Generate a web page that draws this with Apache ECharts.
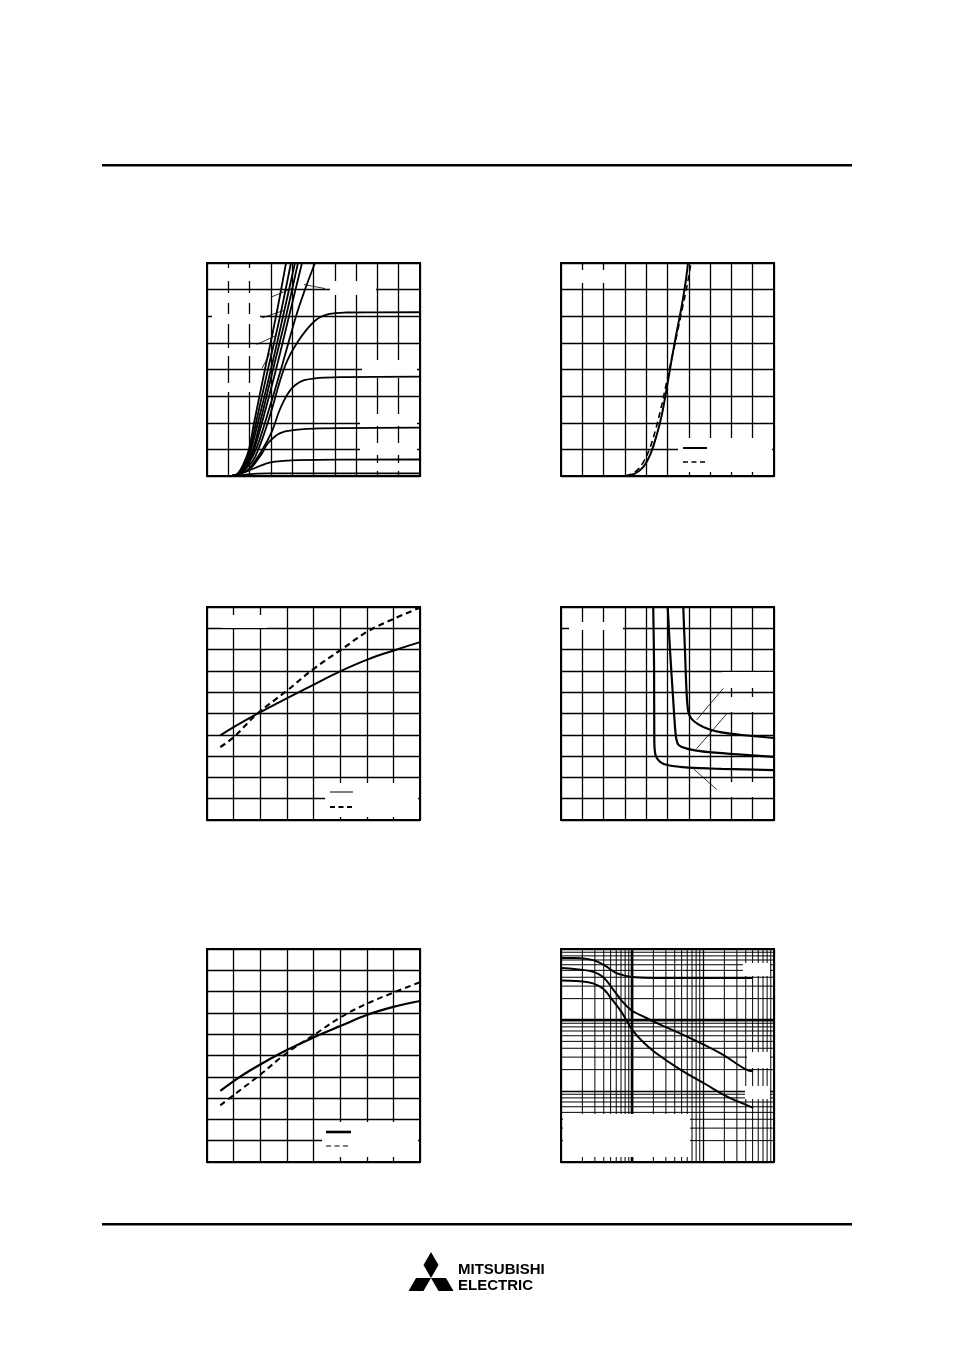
<!DOCTYPE html>
<html><head><meta charset="utf-8">
<script src="https://cdn.jsdelivr.net/npm/echarts@6/dist/echarts.min.js"></script>
<style>html,body{margin:0;padding:0;background:#fff}#c{width:954px;height:1351px}</style>
</head><body><div id="c"></div>
<script>
// ---------- Chart 1: output characteristics (x 0-10, y 0-80) ----------
const c1Steep1 = [[1.17,0],[1.45,1],[1.74,5],[1.97,10],[2.21,20],[2.72,40],[3.24,60],[3.71,80]];
const c1Steep2 = [[1.17,0],[1.47,1],[1.78,5],[2.02,10],[2.30,20],[2.86,40],[3.43,60],[3.94,80]];
const c1Steep3 = [[1.17,0],[1.49,1],[1.83,5],[2.07,10],[2.39,20],[3.00,40],[3.57,60],[4.13,80]];
const c1Steep4 = [[1.17,0],[1.51,1],[1.88,5],[2.16,10],[2.49,20],[3.10,40],[3.71,60],[4.27,80]];
const c1Steep5 = [[1.17,0],[1.53,1],[1.92,5],[2.21,10],[2.58,20],[3.24,40],[3.85,60],[4.46,80]];
const c1Steep6 = [[1.17,0],[1.55,1],[1.97,5],[2.30,10],[2.72,20],[3.47,40],[4.18,60],[4.60,70],[5.07,80]];
const c1Sat61 = [[1.17,0],[1.55,1],[1.85,3],[2.25,7],[2.86,20.2],[3.66,41.2],[4.27,50.5],[5.07,58.3],[5.7,60.8],[6.5,61.4],[10,61.5]];
const c1Sat37 = [[1.17,0],[1.6,1],[2.0,3],[2.58,9.7],[3.04,16.6],[3.51,26.6],[4.13,34.1],[5.07,36.7],[6.24,37.1],[10,37.3]];
const c1Sat18 = [[1.17,0],[1.6,1],[2.02,2.6],[2.58,8.5],[2.86,12.3],[3.43,16.1],[4.13,17.3],[5.3,17.9],[10,18.2]];
const c1Sat6 = [[1.17,0],[1.78,1.5],[2.25,3],[2.72,4.5],[3.19,5.4],[4.27,6.0],[10,6.2]];
const c1Sat1 = [[1.31,0],[1.92,0.6],[2.4,0.9],[2.9,0.98],[10,1.0]];
const c1Leaders = [
  [[3.04,67.3],[3.98,70.4]], [[4.55,71.9],[5.54,70.4]], [[2.58,59.4],[3.61,62.2]],
  [[2.33,49.4],[3.25,52.8]], [[2.58,40.4],[2.96,46.2]]
];
// ---------- Chart 2: transfer characteristics (x 0-20, y 0-80) ----------
const c2Solid = [[6.00,0],[6.94,0.9],[7.74,3.4],[8.36,7.8],[8.98,15.3],[9.46,22.8],[9.92,32.8],[10.40,44.0],[10.86,54.0],[11.34,64.0],[11.70,72.8],[11.92,80]];
const c2Dashed = [[6.08,0],[6.94,1.5],[7.64,4.6],[8.26,9.6],[8.82,16.5],[9.38,25.3],[9.92,35.3],[10.46,45.3],[10.96,54.6],[11.42,63.4],[11.84,71.5],[12.20,80]];
// ---------- Chart 3 (x 0-80, y 0-5) ----------
const c3Solid = [[5,1.985],[10,2.18],[18.8,2.49],[30.1,2.86],[40.1,3.18],[50.2,3.495],[60.2,3.765],[70.2,3.98],[80,4.175]];
const c3Dashed = [[5,1.71],[10,1.945],[18.8,2.49],[30.1,3.04],[40.1,3.55],[50.2,3.99],[60.2,4.42],[70.2,4.725],[80,4.985]];
// ---------- Chart 4 (x 0-20, y 0-10) ----------
const c4CurveA = [[11.48,10],[11.64,7.94],[11.80,5.92],[11.96,5.06],[12.26,4.75],[12.90,4.49],[13.84,4.27],[15.08,4.11],[16.96,3.99],[20,3.85]];
const c4CurveB = [[10.02,10],[10.24,7.94],[10.54,5.61],[10.76,4.05],[10.96,3.58],[11.34,3.43],[12.58,3.27],[14.46,3.16],[16.96,3.07],[20,2.96]];
const c4CurveC = [[8.66,10],[8.74,7.17],[8.76,3.74],[8.88,3.04],[9.30,2.73],[10.08,2.57],[11.96,2.46],[15.08,2.40],[20,2.34]];
const c4Leaders = [[[15.24,6.18],[12.74,4.70]], [[15.56,4.98],[12.74,3.35]], [[14.62,1.43],[12.43,2.41]]];
// ---------- Chart 5 (x 0-80, y 0-5) ----------
const c5Solid = [[5,1.67],[12.5,2.005],[20,2.29],[30,2.63],[40.6,2.94],[50,3.19],[60,3.45],[70,3.64],[80,3.78]];
const c5Dashed = [[5,1.33],[12.5,1.69],[20,2.05],[30,2.56],[40.6,3.0],[50,3.39],[60,3.715],[70,3.975],[80,4.22]];
// ---------- Chart 6: log-log (x 0.1-100, y 0.01-10) ----------
const c6Top = [[0.102,7.48],[0.157,7.45],[0.242,7.2],[0.30,6.86],[0.416,5.84],[0.576,4.7],[0.794,4.22],[1.1,4.0],[2.1,3.92],[50,3.92]];
const c6Mid = [[0.102,5.41],[0.242,4.96],[0.335,4.46],[0.416,3.79],[0.516,2.89],[0.713,1.88],[0.986,1.36],[1.363,1.156],[2.1,0.931],[6.18,0.573],[18.2,0.334],[43.1,0.195],[50.7,0.190]];
const c6Low = [[0.102,3.59],[0.242,3.40],[0.335,3.05],[0.416,2.6],[0.516,1.98],[0.713,1.29],[0.986,0.75],[1.363,0.514],[2.1,0.352],[4.98,0.195],[10.6,0.1265],[22.6,0.082],[48.0,0.0594],[50.7,0.0575]];
const c6XDecades = [0.1, 1, 10];
const c6YDecades = [0.01, 0.1, 1];
const logMinorSteps = [2,3,4,5,6,7,8,9];
const c6XRange = [0.1, 100];
const c6YRange = [0.01, 10];

// ---------- layout ----------
const gridPos = [[207,263],[561,263],[207,607],[561,607],[207,949],[561,949]];
const axisRanges = [
  {x:[0,10,1], y:[0,80,10]},
  {x:[0,20,2], y:[0,80,10]},
  {x:[0,80,10], y:[0,5,0.5]},
  {x:[0,20,2], y:[0,10,1]},
  {x:[0,80,10], y:[0,5,0.5]},
  null
];

const grid = gridPos.map(p => ({left:p[0], top:p[1], width:213, height:213, show:true, borderColor:'#000', borderWidth:2, backgroundColor:'transparent'}));
const split = {show:true, lineStyle:{color:'#000', width:1.3}};
const hidden = {axisLabel:{show:false}, axisTick:{show:false}, axisLine:{show:false}};
const xAxis = [], yAxis = [];
axisRanges.forEach((r,i) => {
  if (r) {
    xAxis.push(Object.assign({type:'value', gridIndex:i, min:r.x[0], max:r.x[1], interval:r.x[2], splitLine:split}, hidden));
    yAxis.push(Object.assign({type:'value', gridIndex:i, min:r.y[0], max:r.y[1], interval:r.y[2], splitLine:split}, hidden));
  } else {
    xAxis.push(Object.assign({type:'log', logBase:10, gridIndex:i, min:c6XRange[0], max:c6XRange[1], splitLine:split}, hidden));
    yAxis.push(Object.assign({type:'log', logBase:10, gridIndex:i, min:c6YRange[0], max:c6YRange[1], splitLine:split}, hidden));
  }
});

function curve(i, data, dashed, width, smooth) {
  return {type:'line', xAxisIndex:i, yAxisIndex:i, data:data, symbol:'none', silent:true, z:3,
    smooth: smooth === undefined ? 0.4 : smooth,
    lineStyle:{color:'#000', width:width||2, type: dashed ? [6,4] : 'solid'}, animation:false};
}
function thin(i, data, width, z) {
  return {type:'line', xAxisIndex:i, yAxisIndex:i, data:data, symbol:'none', silent:true, z:z||3,
    lineStyle:{color:'#000', width:width||0.8}, animation:false};
}

const series = [];
[c1Steep1,c1Steep2,c1Steep3,c1Steep4,c1Steep5,c1Steep6,c1Sat61,c1Sat37,c1Sat18,c1Sat6,c1Sat1].forEach(d => series.push(curve(0,d,false,1.8)));
c1Leaders.forEach(d => series.push(thin(0,d)));
series.push(curve(1,c2Solid,false,2));
series.push(curve(1,c2Dashed,true,1.6));
series.push(curve(2,c3Solid,false,2));
series.push(curve(2,c3Dashed,true,2.2));
[c4CurveA,c4CurveB,c4CurveC].forEach(d => series.push(curve(3,d,false,2.2,0.3)));
c4Leaders.forEach(d => series.push(thin(3,d)));
series.push(curve(4,c5Solid,false,2.2));
series.push(curve(4,c5Dashed,true,2));

// log minor grid lines for chart 6 (drawn below masks)
c6XDecades.forEach(d => logMinorSteps.forEach(n => {
  const v = +(d*n).toPrecision(3);
  series.push(thin(5, [[v,c6YRange[0]],[v,c6YRange[1]]], 1, 1));
}));
c6YDecades.forEach(d => logMinorSteps.forEach(n => {
  const v = +(d*n).toPrecision(3);
  series.push(thin(5, [[c6XRange[0],v],[c6XRange[1],v]], 1, 1));
}));
series.push(thin(5, [[1,c6YRange[0]],[1,c6YRange[1]]], 2.6, 1));
series.push(thin(5, [[c6XRange[0],1],[c6XRange[1],1]], 2.6, 1));
[c6Top,c6Mid,c6Low].forEach(d => series.push(curve(5,d,false,2)));

// ---------- decorations: masked label areas, legend samples, rules, logo ----------
const masks = [
  [212,268,44,13],[212,293,44,10],[212,314,48,10],[212,348,44,8],[212,383,44,9],
  [330,281,46,14],[362,360,55,18],[360,414,57,12],[360,443,57,12],[362,463,50,8],
  [577,270,36,13],[678,438,94,34],
  [222,615,45,13],[325,783,93,34],
  [569,622,54,8],[722,672,51,16],[727,697,46,15],[717,782,56,15],
  [322,1122,96,35],
  [563,1114,127,43],[743,963,27,13],[747,1052,23,16],[745,1086,25,13]
];
const legendSamples = [
  [683,448,707,448,2,false],[683,462,707,462,1.5,true],
  [330,792,353,792,1,false],[330,807,353,807,2.2,true],
  [326,1132,351,1132,2.6,false],[326,1146,351,1146,1.2,true]
];
const elements = [];
masks.forEach(m => elements.push({type:'rect', z:2, silent:true, shape:{x:m[0],y:m[1],width:m[2],height:m[3]}, style:{fill:'#fff'}}));
legendSamples.forEach(l => elements.push({type:'line', z:5, silent:true, shape:{x1:l[0],y1:l[1],x2:l[2],y2:l[3]},
  style:{stroke:'#000', lineWidth:l[4], lineDash: l[5] ? [5,3.5] : null}}));
elements.push({type:'rect', z:5, shape:{x:102,y:164,width:750,height:2.6}, style:{fill:'#000'}});
elements.push({type:'rect', z:5, shape:{x:102,y:1223,width:750,height:2.6}, style:{fill:'#000'}});
const cx = 431, cy = 1278, a = 15, h = a*0.866;
elements.push({type:'polygon', z:5, shape:{points:[[cx,cy],[cx+a/2,cy-h],[cx,cy-2*h],[cx-a/2,cy-h]]}, style:{fill:'#000'}});
elements.push({type:'polygon', z:5, shape:{points:[[cx,cy],[cx-a,cy],[cx-1.5*a,cy+h],[cx-a/2,cy+h]]}, style:{fill:'#000'}});
elements.push({type:'polygon', z:5, shape:{points:[[cx,cy],[cx+a,cy],[cx+1.5*a,cy+h],[cx+a/2,cy+h]]}, style:{fill:'#000'}});
elements.push({type:'text', z:5, style:{text:'MITSUBISHI', x:458, y:1262, font:'bold 15px "Liberation Sans", Arial, sans-serif', fill:'#000', verticalAlign:'top'}});
elements.push({type:'text', z:5, style:{text:'ELECTRIC', x:458, y:1278, font:'bold 15px "Liberation Sans", Arial, sans-serif', fill:'#000', verticalAlign:'top'}});

const chart = echarts.init(document.getElementById('c'), null, {renderer:'canvas'});
chart.setOption({
  animation:false,
  backgroundColor:'#fff',
  grid:grid, xAxis:xAxis, yAxis:yAxis, series:series,
  graphic:{elements:elements}
});
</script></body></html>
